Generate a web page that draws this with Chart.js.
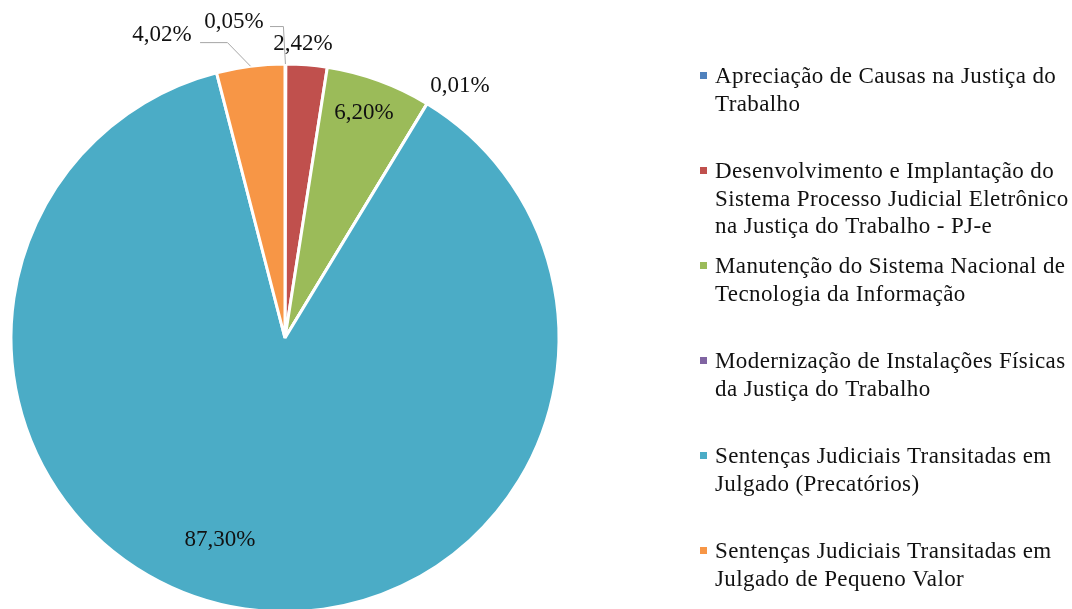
<!DOCTYPE html>
<html><head><meta charset="utf-8">
<script src="https://cdn.jsdelivr.net/npm/chart.js@4.4.1/dist/chart.umd.min.js"></script>
<style>
html,body{margin:0;padding:0;background:#fff;overflow:hidden}
#wrap{position:absolute;left:0;top:0;width:1072px;height:620px}
</style>
</head><body>
<div id="wrap"><canvas id="c"></canvas></div>
<script>
const categories = [
  ["Apreciação de Causas na Justiça do", "Trabalho"],
  ["Desenvolvimento e Implantação do", "Sistema Processo Judicial Eletrônico", "na Justiça do Trabalho - PJ-e"],
  ["Manutenção do Sistema Nacional de", "Tecnologia da Informação"],
  ["Modernização de Instalações Físicas", "da Justiça do Trabalho"],
  ["Sentenças Judiciais Transitadas em", "Julgado (Precatórios)"],
  ["Sentenças Judiciais Transitadas em", "Julgado de Pequeno Valor"]
];
const values = [0.05, 2.42, 6.20, 0.01, 87.30, 4.02];
const colors = ["#4F81BD", "#C0504D", "#9BBB59", "#8064A2", "#4BACC6", "#F79646"];

// label placement: angle from top (deg, clockwise), distance in radii
const labelPlacement = [
  { a: -9.17, d: 1.168, leader: { sx: 36, sy: 4, ex: -2 } },
  { a: 3.5, d: 1.075 },
  { a: 19.35, d: 0.870 },
  { a: 34.78, d: 1.120 },
  { a: 197.84, d: 0.775 },
  { a: -22.09, d: 1.193, leader: { sx: 38, sy: 7, ex: -23 } }
];

const fmt = v => v.toFixed(2).replace('.', ',') + '%';

const overlay = {
  id: 'overlay',
  afterDatasetsDraw(chart) {
    const ctx = chart.ctx;
    const meta = chart.getDatasetMeta(0);
    const a0 = meta.data[0];
    const cx = a0.x, cy = a0.y, R = a0.outerRadius;
    ctx.save();
    ctx.font = '23px "Liberation Serif", "Times New Roman", serif';
    ctx.fillStyle = '#111';
    ctx.textAlign = 'center';
    ctx.textBaseline = 'middle';
    meta.data.forEach((arc, i) => {
      const p = labelPlacement[i];
      const t = p.a * Math.PI / 180;
      const lx = cx + p.d * R * Math.sin(t);
      const ly = cy - p.d * R * Math.cos(t);
      ctx.fillText(fmt(values[i]), lx, ly);
      if (p.leader) {
        const mid = (arc.startAngle + arc.endAngle) / 2;
        const ax = cx + R * Math.cos(mid), ay = cy + R * Math.sin(mid);
        const sx = lx + p.leader.sx, sy = ly + p.leader.sy;
        ctx.beginPath();
        ctx.strokeStyle = '#a6a6a6';
        ctx.lineWidth = 1;
        ctx.moveTo(sx, sy + 0.5);
        ctx.lineTo(ax + p.leader.ex, sy + 0.5);
        ctx.lineTo(ax, ay);
        ctx.stroke();
      }
    });
    // legend
    ctx.textAlign = 'left';
    ctx.textBaseline = 'alphabetic';
    try { ctx.letterSpacing = '0.4px'; } catch (e) {}
    categories.forEach((lines, i) => {
      const base = 83 + 95 * i;
      ctx.fillStyle = colors[i];
      ctx.fillRect(700, base - 11, 7, 7);
      ctx.fillStyle = '#111';
      lines.forEach((ln, j) => ctx.fillText(ln, 715, base + j * 27.5));
    });
    ctx.restore();
  }
};

new Chart(document.getElementById('c'), {
  type: 'pie',
  data: {
    labels: categories,
    datasets: [{
      data: values,
      backgroundColor: colors,
      borderColor: '#ffffff',
      borderWidth: 3,
      hoverOffset: 0,
      radius: 274
    }]
  },
  options: {
    responsive: true,
    maintainAspectRatio: false,
    animation: false,
    layout: { padding: { left: 11, right: 513, top: 64, bottom: 8 } },
    plugins: { legend: { display: false }, tooltip: { enabled: false } }
  },
  plugins: [overlay]
});
</script>
</body></html>
